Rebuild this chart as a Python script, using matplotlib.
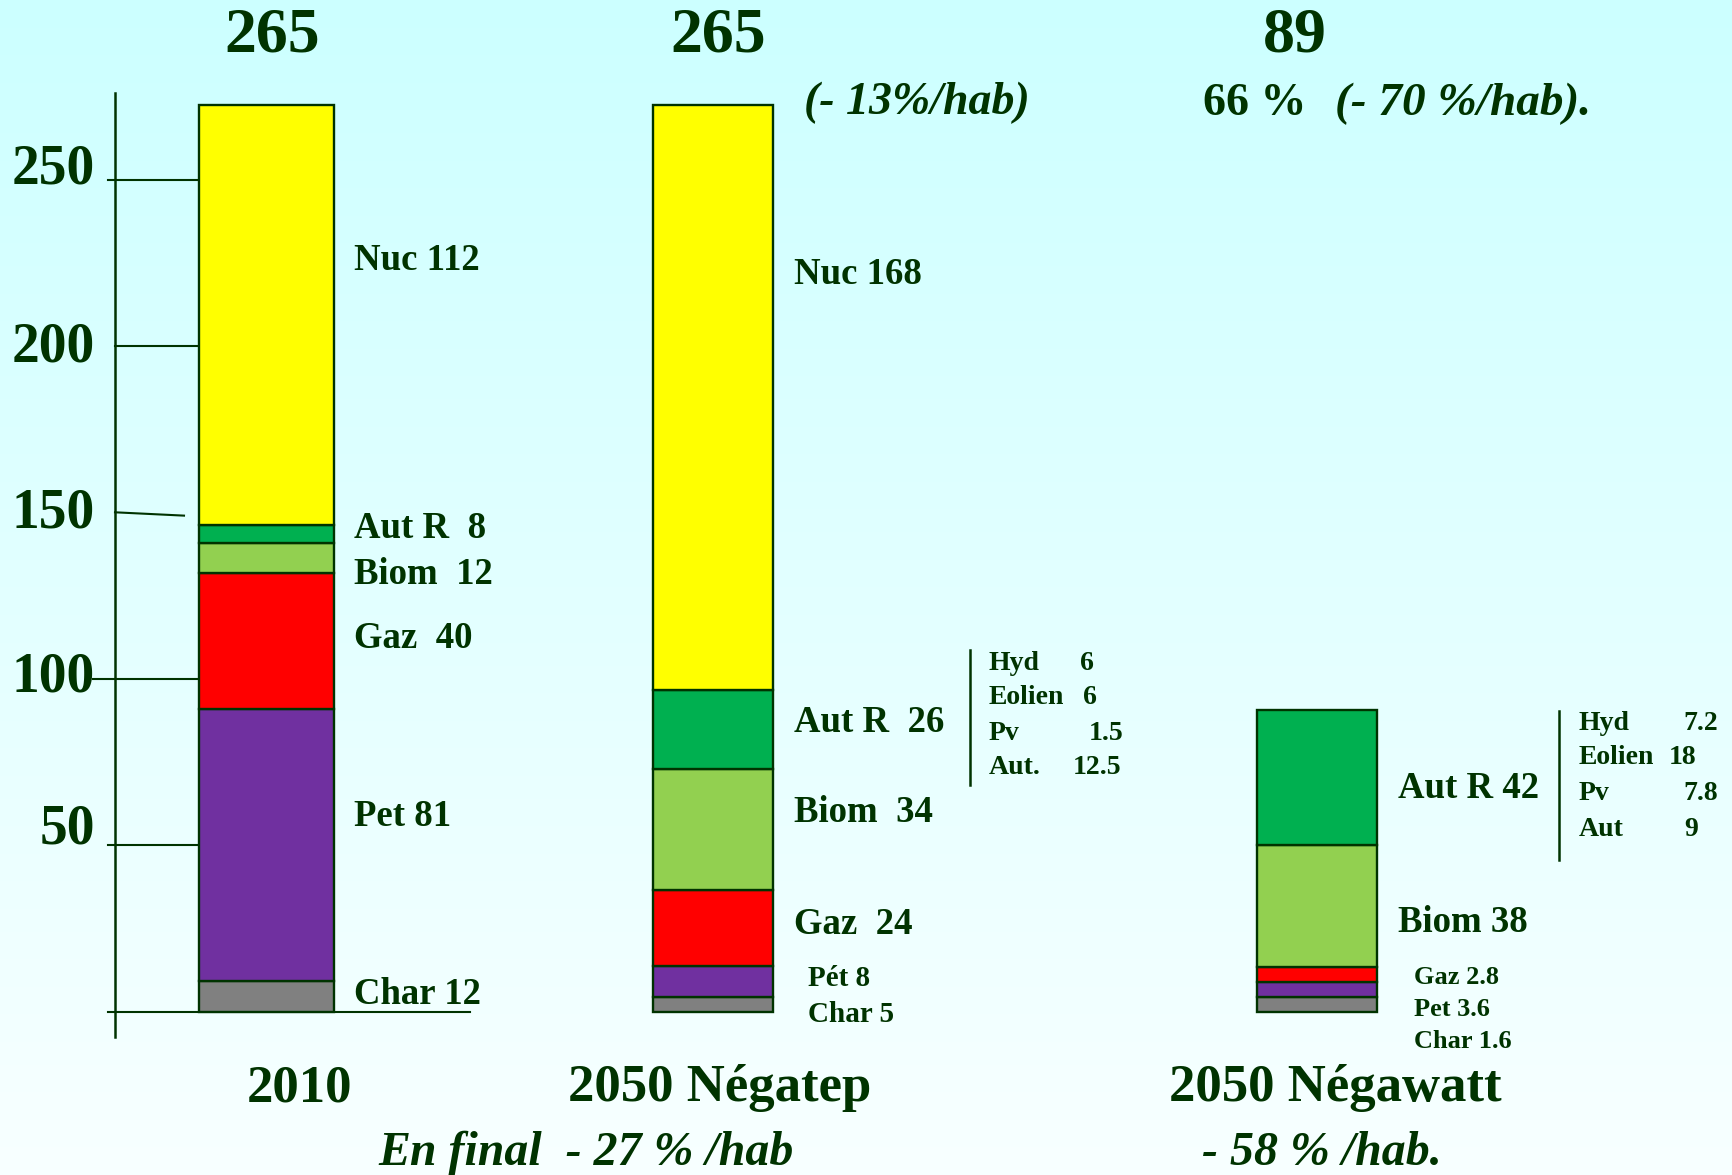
import matplotlib
matplotlib.use("Agg")
import matplotlib.pyplot as plt
import numpy as np

# drawn segment heights (bottom -> top); the printed
# numbers in the labels below are what the slide claims
categories = ["2010", "2050 Négatep", "2050 Négawatt"]
char_h = [9.3, 4.5, 4.5]
pet_h = [81.7, 9.2, 4.5]
gaz_h = [40.7, 22.9, 4.5]
biom_h = [9.0, 36.3, 36.6]
autr_h = [5.6, 23.7, 40.6]
nuc_h = [126.2, 175.9, 0]
totals = ["265", "265", "89"]
yticks = [0, 50, 100, 150, 200, 250]
ytick_labels = ["", "50", "100", "150", "200", "250"]

labels_2010 = ["Nuc 112", "Aut R  8", "Biom  12", "Gaz  40", "Pet 81", "Char 12"]
labels_negatep = ["Nuc 168", "Aut R  26", "Biom  34", "Gaz  24"]
labels_negatep_small = ["Pét 8", "Char 5"]
labels_negawatt = ["Aut R 42", "Biom 38"]
labels_negawatt_small = ["Gaz 2.8", "Pet 3.6", "Char 1.6"]

# breakdown of "Aut R"
negatep_names = ["Hyd", "Eolien", "Pv", "Aut."]
negatep_vals = ["6", "6", "1.5", "12.5"]
negawatt_names = ["Hyd", "Eolien", "Pv", "Aut"]
negawatt_vals = ["7.2", "18", "7.8", "9"]

colors = ["#808080", "#7030A0", "#FF0000", "#92D050", "#00B050", "#FFFF00"]
ink = "#003300"
FONT = "Liberation Serif"

W, H = 1733, 1175
fig = plt.figure(figsize=(W / 100, H / 100), dpi=100)

# background gradient + overlay in pixel coordinates
bg = fig.add_axes([0, 0, 1, 1])
bg.set_xlim(0, W)
bg.set_ylim(H, 0)
bg.axis("off")
top = np.array([204, 255, 255]) / 255
bot = np.array([248, 255, 255]) / 255
t = np.linspace(0, 1, 256)[:, None, None]
grad = top * (1 - t) + bot * t
bg.imshow(grad, extent=[0, W, H, 0], aspect="auto", zorder=0)

# bar axes: value 0 at pixel 1011.5, 250 at pixel 179.5
y0_px = 1011.5
px_per_unit = (1011.5 - 179.5) / 250
ax = fig.add_axes([0, 0, 1, 1])
ax.patch.set_alpha(0)
ax.set_xlim(0, W)
ax.set_ylim(-(H - y0_px) / px_per_unit, y0_px / px_per_unit)
ax.axis("off")

centers = [266.5, 713, 1317.5]
widths = [135, 119.5, 120]
series = [char_h, pet_h, gaz_h, biom_h, autr_h, nuc_h]
bottom = np.zeros(3)
for vals, c in zip(series, colors):
    v = np.array(vals, dtype=float)
    mask = v > 0
    ax.bar(np.array(centers)[mask], v[mask], width=np.array(widths)[mask],
           bottom=bottom[mask], color=c, edgecolor=ink, linewidth=1.7, zorder=3)
    bottom += v

# y axis and tick lines
ax.plot([115, 115], [-7.8, 276], color=ink, lw=1.8, zorder=2)
tick_starts = {0: 108, 50: 108, 100: 93, 150: 115, 200: 115, 250: 108}
for yv in yticks:
    x0 = tick_starts[yv]
    x1 = 470 if yv == 0 else (184 if yv == 150 else 199)
    y1 = yv - 1 if yv == 150 else yv
    ax.plot([x0, x1], [yv, y1], color=ink, lw=1.5, zorder=2)


def txt(x, y, s, size, ha="left", style="normal"):
    bg.text(x, y, s, ha=ha, va="center", fontsize=size, fontweight="bold",
            fontstyle=style, family=FONT, color=ink, zorder=5)


# tick labels sit a bit off their ticks on the slide
for lab, y in zip(ytick_labels[1:], [829, 677, 513, 348, 170]):
    txt(95, y, lab, 40, ha="right")

# totals on top
for cx, s in zip([272, 718, 1295], totals):
    txt(cx, 36, s, 46, ha="center")
txt(917, 103, "(- 13%/hab)", 33, ha="center", style="italic")
txt(1203, 104, "66 %", 33)
txt(1335, 104, "(- 70 %/hab).", 34, style="italic")

# segment labels, 2010
for y, s in zip([260, 528, 574, 638, 817, 995], labels_2010):
    txt(354, y, s, 26.5)

# segment labels, Négatep
for y, s in zip([275, 723, 812, 924], labels_negatep):
    txt(794, y, s, 26.5)
for y, s in zip([979, 1015], labels_negatep_small):
    txt(808, y, s, 21)

# breakdown Négatep
bg.plot([970, 970], [650, 785], color=ink, lw=1.8, zorder=5)
for y, n, v, vx in zip([663, 697, 733, 768], negatep_names, negatep_vals,
                       [1080, 1083, 1089, 1073]):
    txt(989, y, n, 20)
    txt(vx, y, v, 20)

# segment labels, Négawatt
for y, s in zip([788, 923], labels_negawatt):
    txt(1398, y, s, 26.5)
for y, s in zip([978, 1010, 1042], labels_negawatt_small):
    txt(1414, y, s, 19)

# breakdown Négawatt
bg.plot([1559, 1559], [711, 860], color=ink, lw=1.8, zorder=5)
for y, n, v, vx in zip([724, 758, 794, 829], negawatt_names, negawatt_vals,
                       [1683, 1669, 1683, 1684]):
    txt(1579, y, n, 20)
    txt(vx, y, v, 20)

# category labels
for cx, s in zip([300, 720, 1335], categories):
    txt(cx, 1088, s, 38, ha="center")
txt(586, 1153, "En final  - 27 % /hab", 34.5, ha="center", style="italic")
txt(1322, 1153, "- 58 % /hab.", 34.5, ha="center", style="italic")

fig.savefig("out.png", dpi=100)
